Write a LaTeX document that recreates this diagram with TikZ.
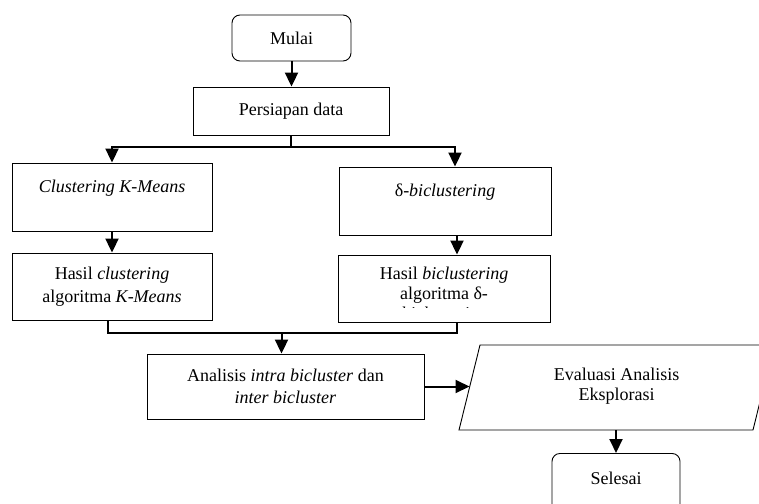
\documentclass[tikz,border=0pt]{standalone}
\usepackage{fontspec}
\setmainfont{Liberation Serif}
\usetikzlibrary{arrows.meta}
\tikzset{
  box/.style={draw, line width=0.9pt, align=center, inner sep=0pt},
  term/.style={box, rounded corners=8pt},
  flow/.style={line width=2pt},
}

\begin{document}
\begin{tikzpicture}[x=1pt, y=-1pt, >={Triangle[width=13pt,length=14pt]}, font=\fontsize{18}{21}\selectfont]
\useasboundingbox (0,0) rectangle (759,503);
\clip (0,0) rectangle (759,503);
%
\node (mulai) [term, minimum width=119pt, minimum height=46pt] at (291.5,38) {Mulai};
\node (prep) [box, minimum width=196pt, minimum height=48pt] at (291,111) {Persiapan data};
\node (km) [box, minimum width=200pt, minimum height=68pt] at (112,197) {\textit{Clustering K-Means}\\ \mbox{}};
\node (delta) [box, minimum width=212pt, minimum height=68pt] at (445,201) {δ\textit{-biclustering}\\ \mbox{}};
\node (hkm) [box, minimum width=200pt, minimum height=67pt, font=\fontsize{18}{23}\selectfont] at (112,286.5) {Hasil \textit{clustering}\\algoritma \textit{K-Means}};
\node (hdelta) [box, minimum width=212pt, minimum height=67pt] at (444,288.5) {};
\begin{scope}
  \clip ([xshift=1pt]hdelta.north west) rectangle ([xshift=-1pt,yshift=15pt]hdelta.south east);
  \node (hdeltatext) [anchor=north, align=center, inner sep=0pt, font=\fontsize{18}{20}\selectfont] at (444,267) {Hasil \textit{biclustering}\\algoritma δ-\\\textit{biclustering}};
\end{scope}
\node (anl) [box, minimum width=277pt, minimum height=65pt, font=\fontsize{18}{22}\selectfont] at (285.5,386.5) {Analisis \textit{intra bicluster} dan\\\textit{inter bicluster}};
% parallelogram
\coordinate (evtl) at (480,345);
\coordinate (evtr) at (774,345);
\coordinate (evbr) at (753,430);
\coordinate (evbl) at (459,430);
\coordinate (evin) at (469.5,387.5);
\draw[line width=0.9pt] (evtl) -- (evtr) -- (evbr) -- (evbl) -- cycle;
\node (eval) [align=center, inner sep=0pt, font=\fontsize{18}{20}\selectfont] at (616.5,386.5) {Evaluasi Analisis\\Eksplorasi};
\node (end) [term, anchor=north, minimum width=128pt, minimum height=60pt, text depth=10pt] at (616,453) {Selesai};
%
\draw[flow,->] (mulai.south) -- (mulai.south |- prep.north);
\draw[flow] (prep.south) -- ++(0,12) coordinate (split);
\draw[flow,->] (split) -| (km.north);
\draw[flow,->] (split) -| ([xshift=10pt]delta.north);
\draw[flow,->] (km) -- (hkm);
\draw[flow,->] ([xshift=12pt]delta.south) -- ([xshift=12pt]delta.south |- hdelta.north);
\draw[flow] ([xshift=-4pt]hkm.south) -- ++(0,13) coordinate (merge) -| ([xshift=13pt]hdelta.south);
\draw[flow,->] ([xshift=-4pt]anl.north |- merge) -- ([xshift=-4pt]anl.north);
\draw[flow,->] (anl.east) -- (anl.east -| evin);
\draw[flow,->] (end.north |- evbl) -- (end.north);
\end{tikzpicture}
\end{document}
